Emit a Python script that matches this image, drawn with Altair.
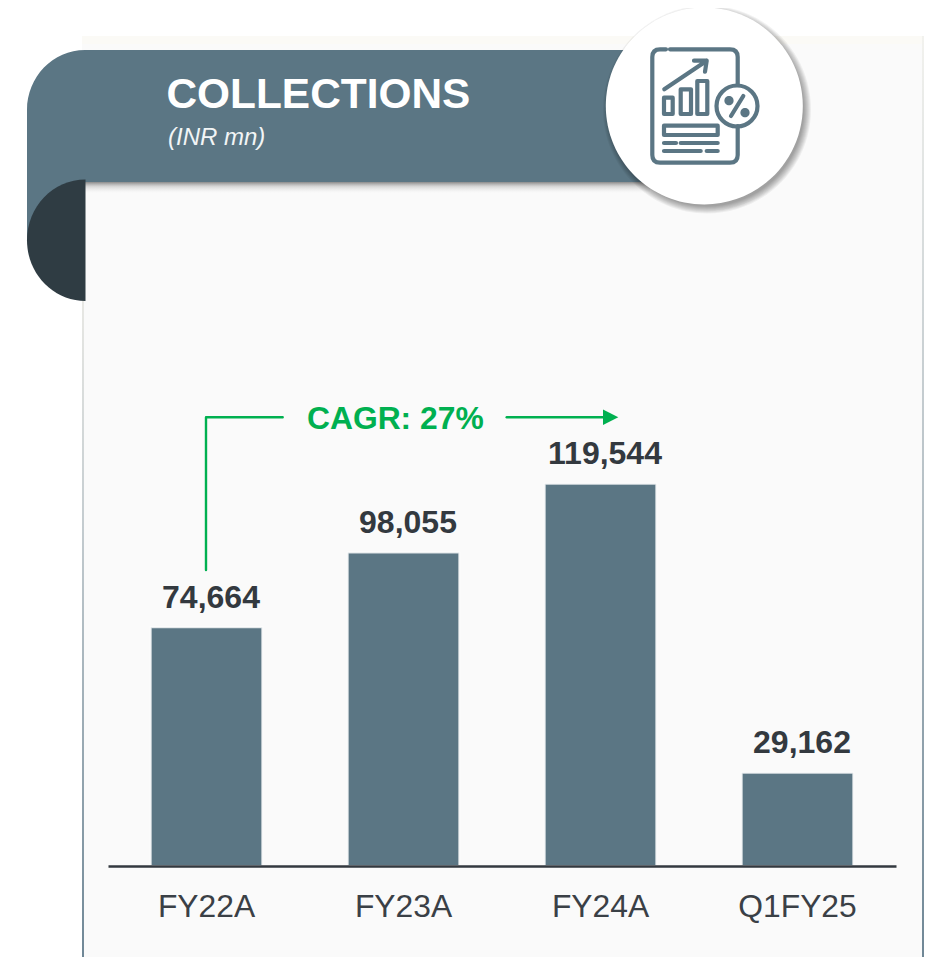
import altair as alt

# ---- chart values ----
categories = ["FY22A", "FY23A", "FY24A", "Q1FY25"]
values = [74664, 98055, 119544, 29162]
title_text = "COLLECTIONS"
unit_text = "(INR mn)"
cagr_text = "CAGR: 27%"

SLATE = "#5B7684"
DARK = "#2F3C43"
INK = "#33393F"
GREEN = "#00B050"
FONT = "Liberation Sans"

rows = [{"category": c, "value": v} for c, v in zip(categories, values)]
one = alt.Data(values=[{"k": 0}])


def path(d, fill=None, stroke=None, width=1.0, opacity=1.0):
    """Decoration drawn from an SVG path written in page coordinates."""
    kw = dict(shape=d, size=4, opacity=opacity)
    if fill:
        kw.update(filled=True, fill=fill, strokeWidth=0)
    else:
        kw.update(filled=False, stroke=stroke, strokeWidth=width,
                  strokeCap="round", strokeJoin="round", fill="transparent")
    return alt.Chart(one).mark_point(**kw).encode(x=alt.value(-8), y=alt.value(-8))


def circle(cx, cy, r):
    return (f"M{cx-r},{cy} A{r},{r} 0 1 1 {cx+r},{cy} "
            f"A{r},{r} 0 1 1 {cx-r},{cy} Z")


def grad_rect(x0, x1, y0, y1, stops):
    g = alt.LinearGradient(
        gradient="linear", x1=0, y1=0, x2=0, y2=1,
        stops=[alt.GradientStop(offset=o, color=c) for o, c in stops],
    )
    return alt.Chart(one).mark_rect(color=g).encode(
        x=alt.value(x0 - 8), x2=alt.value(x1 - 8),
        y=alt.value(y0 - 8), y2=alt.value(y1 - 8),
    )


def label(text, x, y, size, color, weight="normal", style="normal", align="left"):
    return alt.Chart(one).mark_text(
        text=text, font=FONT, fontSize=size, fontWeight=weight, fontStyle=style,
        color=color, align=align, baseline="alphabetic",
    ).encode(x=alt.value(x - 8), y=alt.value(y - 8))


layers = []

# panel
layers.append(path("M82,36 H924 V957 H82 Z", fill="#FAFAFA"))
layers.append(path("M82,36 H924 V44 H82 Z", fill="#FBFAF6"))
layers.append(grad_rect(82, 84, 300, 957, [(0, "#E8E8E4"), (0.35, "#C3CBCF"), (1, "#6F8796")]))
layers.append(grad_rect(922, 924, 36, 957, [(0, "#F2F2EE"), (0.4, "#C3CBCF"), (1, "#6F8796")]))

# banner shadow, banner, fold
layers.append(grad_rect(85, 650, 182, 193, [(0, "rgba(70,70,70,0.62)"), (0.4, "rgba(120,120,120,0.28)"), (1, "rgba(200,200,200,0)")]))
layers.append(path("M27,240 V110 A58,60 0 0 1 85,50 H650 V182 H85 V240 Z", fill=SLATE))
layers.append(path("M85.5,179.5 A58.5,60.75 0 0 0 85.5,301 Z", fill=DARK))

# round badge with soft shadow
for r in [104, 103, 102, 101, 100, 99, 98, 97]:
    layers.append(path(circle(707, 109.5, r), fill="#000000", opacity=0.05))
layers.append(path(circle(704.3, 106, 98.5), fill="#FFFFFF"))

# badge icon
icon_lines = [
    "M666,49.3 H660 Q652.3,49.3 652.3,57 V155 Q652.3,162.7 660,162.7 H730 Q737.7,162.7 737.7,155 V126",
    "M670,49.3 H730 Q737.7,49.3 737.7,57 V85",
    "M664.3,89.3 L706.7,60.7 M694,60.7 H706.7 L705,71.7",
    "M664,97.7 H672.7 V114 H664 Z",
    "M680.7,89.3 H691 V114 H680.7 Z",
    "M697.3,81 H707.3 V114 H697.3 Z",
    "M664,125.7 H717.7 V135 H664 Z",
    "M664,143 H676 M680.7,143 H717.7",
    "M664,151 H700.7 M706.7,151 H717.7",
    circle(737, 106, 20.5),
    "M731,116 L743.3,96",
]
for d in icon_lines:
    layers.append(path(d, stroke=SLATE, width=4.2))
layers.append(path(circle(729, 100.7, 4.6), fill=SLATE))
layers.append(path(circle(745, 112.7, 4.6), fill=SLATE))

# banner text
layers.append(label(title_text, 166.5, 108, 42.4, "#FFFFFF", weight="bold"))
layers.append(label(unit_text, 168, 145, 24, "#F2F5F6", style="italic"))

# CAGR bracket
layers.append(path("M206,570 V417.3 H282.7", stroke=GREEN, width=2.4))
layers.append(path("M506.7,417.3 H605", stroke=GREEN, width=2.4))
layers.append(path("M603,409.5 L618.3,417.3 L603,425 Z", fill=GREEN))
layers.append(label(cagr_text, 307, 429, 31.8, GREEN, weight="bold"))

# bars and value labels, through the scales
x_enc = alt.X(
    "category:N", sort=categories, title=None,
    scale=alt.Scale(range=[100, 888], paddingInner=0.4335, paddingOuter=0.21675),
    axis=alt.Axis(
        labelAngle=0, labelFont=FONT, labelFontSize=31.8, labelColor="#3A4046",
        labelPadding=25.5, ticks=False, grid=False, domainColor=INK, domainWidth=2.5,
        labelOverlap=False, zindex=1,
    ),
)
y_enc = alt.Y("value:Q", axis=None, scale=alt.Scale(domain=[0, 268300], nice=False))

base = alt.Chart(alt.Data(values=rows))
layers.append(base.mark_bar(color=SLATE, stroke="#FFFFFF", strokeWidth=2, strokeOpacity=0.8).encode(x=x_enc, y=y_enc))
layers.append(base.mark_text(
    font=FONT, fontSize=32, fontWeight="bold", color=INK,
    baseline="alphabetic", dx=4.5, dy=-19.5,
).encode(x=x_enc, y=y_enc, text=alt.Text("value:Q", format=",")))

chart = alt.layer(*layers).properties(
    width=922, height=858,
    padding={"left": 0, "top": 0, "right": 0, "bottom": 91},
    autosize=alt.AutoSizeParams(type="none"),
    background="#FFFFFF",
).configure_view(stroke=None)

chart.save("out.html", embed_options={"renderer": "svg", "actions": False})
